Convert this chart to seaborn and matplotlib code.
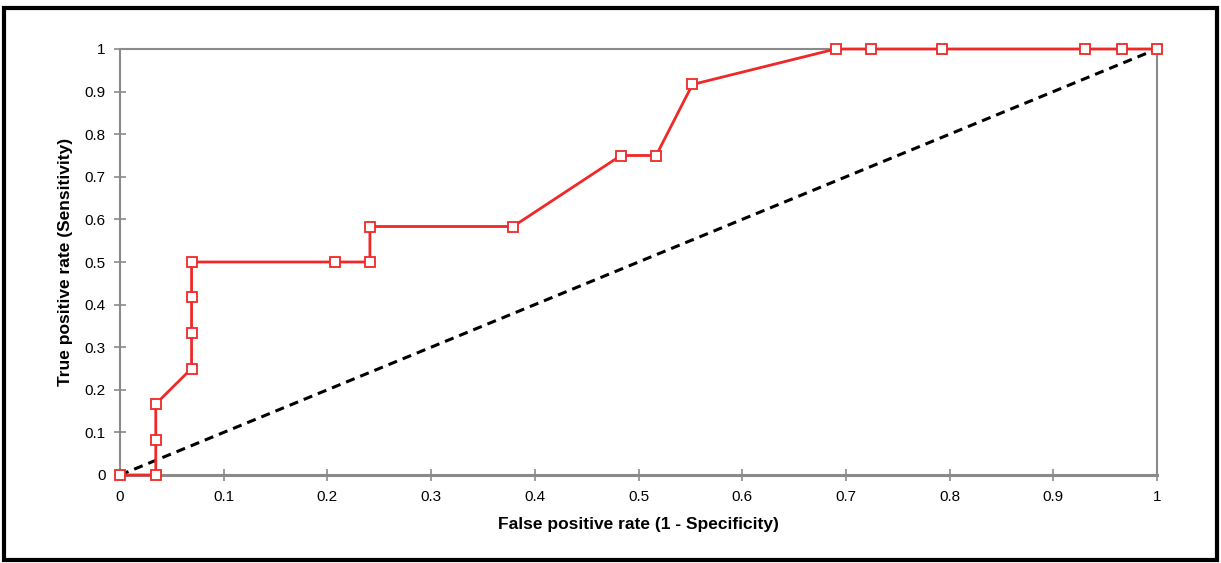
import matplotlib
matplotlib.use("Agg")
import matplotlib.pyplot as plt
import seaborn as sns
import pandas as pd
from matplotlib.patches import Rectangle

fpr = [0, 0.0345, 0.0345, 0.0345, 0.069, 0.069, 0.069, 0.069, 0.207, 0.241, 0.241,
       0.379, 0.483, 0.517, 0.552, 0.690, 0.724, 0.793, 0.931, 0.966, 1.0]
tpr = [0, 0, 0.0833, 0.1667, 0.25, 0.3333, 0.4167, 0.5, 0.5, 0.5, 0.5833,
       0.5833, 0.75, 0.75, 0.9167, 1, 1, 1, 1, 1, 1]
diag_x = [0, 1]
diag_y = [0, 1]
tick_vals = [0, 0.1, 0.2, 0.3, 0.4, 0.5, 0.6, 0.7, 0.8, 0.9, 1]
tick_labels = ["0", "0.1", "0.2", "0.3", "0.4", "0.5", "0.6", "0.7", "0.8", "0.9", "1"]

sns.set_style("white")
plt.rcParams['font.family'] = ['Liberation Sans Narrow', 'Liberation Sans', 'DejaVu Sans']

fig = plt.figure(figsize=(12.21, 5.63), dpi=100)
ax = fig.add_axes([120/1221, 1-475/563, (1157-120)/1221, (475-49)/563])

df = pd.DataFrame({"fpr": fpr, "tpr": tpr})
sns.lineplot(x=diag_x, y=diag_y, ax=ax, color="black", linestyle=(0, (3, 2)), linewidth=2.2,
             estimator=None, zorder=2)
sns.lineplot(data=df, x="fpr", y="tpr", sort=False, estimator=None, ax=ax, color="#f02828", linewidth=2,
             marker="s", markersize=6.5, markerfacecolor="white", markeredgecolor="#f02828",
             markeredgewidth=1.3, zorder=3, clip_on=False)

ax.set_xlim(0, 1)
ax.set_ylim(0, 1)
ax.set_xticks(tick_vals)
ax.set_xticklabels(tick_labels)
ax.set_yticks(tick_vals)
ax.set_yticklabels(tick_labels)
ax.tick_params(axis="both", direction="inout", length=9, width=1.2, color="#8a8a8a",
               labelcolor="black", labelsize=11, pad=6, left=True, bottom=True)
for s in ax.spines.values():
    s.set_color("#8a8a8a")
    s.set_linewidth(1.5)
ax.spines["bottom"].set_linewidth(2.2)
ax.set_xlabel("False positive rate (1 - Specificity)", fontsize=12.5, fontweight="bold",
              labelpad=10, color="black")
ax.set_ylabel("True positive rate (Sensitivity)", fontsize=12.5, fontweight="bold",
              labelpad=8, color="black")

fig.patches.append(Rectangle((4/1221, 3/563), 1213/1221, 552/563, transform=fig.transFigure,
                             fill=False, edgecolor="black", linewidth=3))

fig.savefig("out.png", dpi=100)
